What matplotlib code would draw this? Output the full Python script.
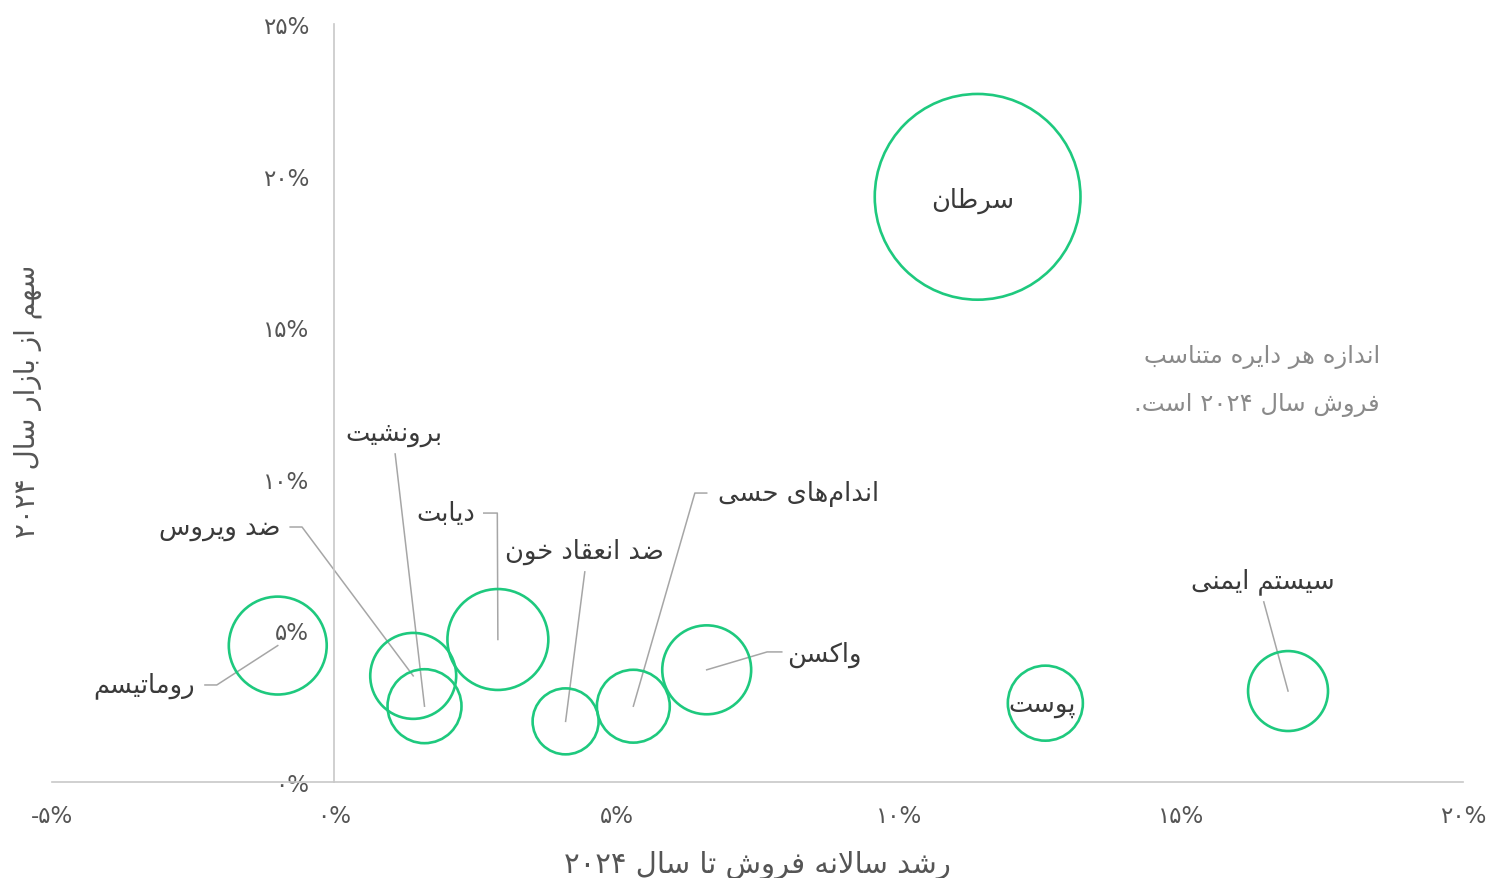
import re
import matplotlib
matplotlib.use('Agg')
import matplotlib.pyplot as plt
from matplotlib.ticker import FuncFormatter, MultipleLocator

# داده‌ها
names = ['سرطان', 'روماتیسم', 'ضد ویروس', 'برونشیت', 'دیابت',
         'ضد انعقاد خون', 'اندام\u200cهای حسی', 'واکسن', 'پوست', 'سیستم ایمنی']
growth = [11.4, -1.0, 1.4, 1.6, 2.9, 4.1, 5.3, 6.6, 12.6, 16.9]   # رشد سالانه (%)
share = [19.3, 4.5, 3.5, 2.5, 4.7, 2.0, 2.5, 3.7, 2.6, 3.0]       # سهم از بازار (%)
sales = [106, 24, 18.5, 13.7, 25.5, 10.9, 13.3, 19.8, 14.1, 16]  # فروش ۲۰۲۴

# جای برچسب‌ها: (x, y, ha) و نقاط خط راهنما
label_pos = [
    (11.32, 19.20, 'center'),
    (-2.47, 3.20, 'right'),
    (-0.96, 8.41, 'right'),
    (1.06, 11.51, 'center'),
    (2.49, 8.87, 'right'),
    (4.43, 7.62, 'center'),
    (6.80, 9.53, 'left'),
    (8.02, 4.22, 'left'),
    (12.55, 2.58, 'center'),
    (16.46, 6.63, 'center'),
]
leaders = [
    None,
    [(-2.29, 3.20), (-2.08, 3.20)],
    [(-0.78, 8.41), (-0.57, 8.41)],
    [(1.08, 10.82)],
    [(2.65, 8.87), (2.89, 8.87)],
    [(4.44, 6.93)],
    [(6.60, 9.53), (6.39, 9.53)],
    [(7.93, 4.29), (7.67, 4.29)],
    None,
    [(16.47, 5.94)],
]

# شکل‌دهی حروف فارسی (matplotlib خودش حروف را نمی‌چسباند)
FORMS = {
    'ا': (0xFE8D, 0xFE8E, None, None),
    'ب': (0xFE8F, 0xFE90, 0xFE91, 0xFE92),
    'پ': (0xFB56, 0xFB57, 0xFB58, 0xFB59),
    'ت': (0xFE95, 0xFE96, 0xFE97, 0xFE98),
    'ح': (0xFEA1, 0xFEA2, 0xFEA3, 0xFEA4),
    'خ': (0xFEA5, 0xFEA6, 0xFEA7, 0xFEA8),
    'د': (0xFEA9, 0xFEAA, None, None),
    'ر': (0xFEAD, 0xFEAE, None, None),
    'ز': (0xFEAF, 0xFEB0, None, None),
    'س': (0xFEB1, 0xFEB2, 0xFEB3, 0xFEB4),
    'ش': (0xFEB5, 0xFEB6, 0xFEB7, 0xFEB8),
    'ض': (0xFEBD, 0xFEBE, 0xFEBF, 0xFEC0),
    'ط': (0xFEC1, 0xFEC2, 0xFEC3, 0xFEC4),
    'ع': (0xFEC9, 0xFECA, 0xFECB, 0xFECC),
    'ف': (0xFED1, 0xFED2, 0xFED3, 0xFED4),
    'ق': (0xFED5, 0xFED6, 0xFED7, 0xFED8),
    'ک': (0xFB8E, 0xFB8F, 0xFB90, 0xFB91),
    'ل': (0xFEDD, 0xFEDE, 0xFEDF, 0xFEE0),
    'م': (0xFEE1, 0xFEE2, 0xFEE3, 0xFEE4),
    'ن': (0xFEE5, 0xFEE6, 0xFEE7, 0xFEE8),
    'ه': (0xFEE9, 0xFEEA, 0xFEEB, 0xFEEC),
    'و': (0xFEED, 0xFEEE, None, None),
    'ی': (0xFBFC, 0xFBFD, 0xFBFE, 0xFBFF),
}


def fa(text):
    out = []
    n = len(text)
    i = 0
    while i < n:
        c = text[i]
        if c not in FORMS:
            if c != '\u200c':
                out.append(c)
            i += 1
            continue
        prev = i > 0 and text[i - 1] in FORMS and FORMS[text[i - 1]][2] is not None
        if c == 'ل' and i + 1 < n and text[i + 1] == 'ا':
            out.append(chr(0xFEFC if prev else 0xFEFB))
            i += 2
            continue
        iso, fin, ini, med = FORMS[c]
        nxt = ini is not None and i + 1 < n and text[i + 1] in FORMS
        if prev and nxt:
            g = med
        elif prev:
            g = fin
        elif nxt:
            g = ini
        else:
            g = iso
        out.append(chr(g))
        i += 1
    vis = ''.join(out)[::-1]
    return re.sub('[۰-۹]+', lambda m: m.group(0)[::-1], vis)


def fa_digits(s):
    return s.translate(str.maketrans('0123456789', '۰۱۲۳۴۵۶۷۸۹'))


GREEN = '#1ec97e'
TXT = '#3a3a3a'
TICK = '#555555'

fig = plt.figure(figsize=(14.88, 8.79), dpi=100)
ax = fig.add_axes([52 / 1488, 96 / 879, 1411 / 1488, 758 / 879])

sizes = [v * 207 for v in sales]
ax.scatter(growth, share, s=sizes, facecolors='none', edgecolors=GREEN,
           linewidths=1.9, zorder=3)

for i, name in enumerate(names):
    lx, ly, ha = label_pos[i]
    ax.text(lx, ly, fa(name), ha=ha, va='center', fontsize=18.5, color=TXT, zorder=4)
    if leaders[i] is not None:
        xs = [p[0] for p in leaders[i]] + [growth[i]]
        ys = [p[1] for p in leaders[i]] + [share[i]]
        ax.plot(xs, ys, color='#a6a6a6', lw=1.1, zorder=2)

ax.text(18.53, 13.27, fa('اندازه هر دایره متناسب') + '\n' + fa('فروش سال ۲۰۲۴ است.'),
        ha='right', va='center', multialignment='right', fontsize=17.5,
        color='#8a8a8a', linespacing=2.2)

ax.set_xlim(-5, 20)
ax.set_ylim(0, 25)
ax.xaxis.set_major_locator(MultipleLocator(5))
ax.yaxis.set_major_locator(MultipleLocator(5))
ax.xaxis.set_major_formatter(FuncFormatter(lambda v, _: fa_digits(f'{v:.0f}') + '%'))
ax.yaxis.set_major_formatter(FuncFormatter(lambda v, _: fa_digits(f'{v:.0f}') + '%'))
ax.tick_params(length=0, labelsize=16.5, colors=TICK)
ax.tick_params(axis='y', pad=18)
ax.tick_params(axis='x', pad=16)

for s in ['top', 'right']:
    ax.spines[s].set_visible(False)
ax.spines['left'].set_position(('data', 0))
for s in ['left', 'bottom']:
    ax.spines[s].set_color('#c8c8c8')
    ax.spines[s].set_linewidth(1.2)

ax.set_xlabel(fa('رشد سالانه فروش تا سال ۲۰۲۴'), fontsize=21, color=TICK)
ax.set_ylabel(fa('سهم از بازار سال ۲۰۲۴'), fontsize=20, color=TICK)
ax.xaxis.label.set_va('center')
ax.yaxis.label.set_va('center')
ax.xaxis.set_label_coords(0.5, -0.109)
ax.yaxis.set_label_coords(-0.017, 0.503)

fig.savefig('out.png', dpi=100)
